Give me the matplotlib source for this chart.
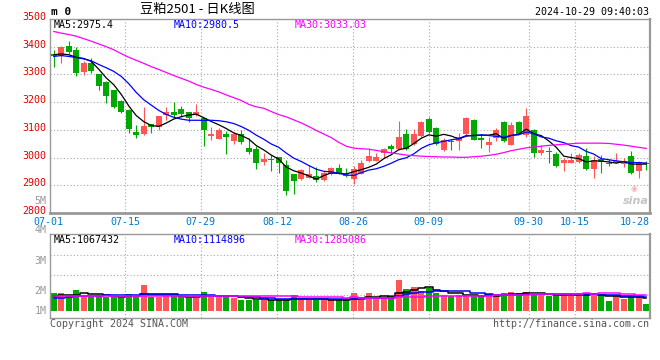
import numpy as np
import pandas as pd
import matplotlib
matplotlib.use('Agg')
import matplotlib.pyplot as plt
import matplotlib.transforms as mtransforms

# daily candles of m2501, 2024-07-01 .. 2024-10-29 (80 trading days)
opens = [3374, 3365, 3404, 3389, 3307, 3340, 3300, 3273, 3243, 3205,
         3171, 3093, 3086, 3121, 3112, 3155, 3165, 3175, 3165, 3152,
         3143, 3079, 3067, 3086, 3061, 3086, 3033, 3032, 2983, 2995,
         3001, 2974, 2942, 2924, 2927, 2935, 2918, 2939, 2963, 2936,
         2924, 2942, 2986, 2988, 3017, 3042, 3032, 3085, 3049, 3077,
         3138, 3108, 3029, 3061, 3060, 3085, 3134, 3072, 3047, 3069,
         3128, 3047, 3128, 3081, 3098, 3017, 3025, 3013, 2979, 2982,
         2985, 3006, 2958, 2996, 2982, 2982, 2977, 3006, 2952, 2982]
highs = [3389, 3404, 3421, 3398, 3348, 3360, 3302, 3276, 3245, 3207,
         3174, 3117, 3183, 3121, 3150, 3181, 3200, 3186, 3166, 3193,
         3143, 3112, 3105, 3095, 3093, 3100, 3069, 3040, 3017, 3010,
         3001, 2992, 2942, 2960, 2974, 2965, 2950, 2967, 2977, 2962,
         2969, 2990, 3033, 3017, 3033, 3048, 3133, 3102, 3102, 3133,
         3148, 3110, 3071, 3067, 3090, 3146, 3139, 3081, 3075, 3108,
         3132, 3128, 3132, 3179, 3104, 3045, 3039, 3021, 2997, 3017,
         3017, 3033, 3006, 3009, 2994, 3015, 3000, 3023, 2988, 2988]
lows = [3326, 3342, 3374, 3294, 3298, 3305, 3243, 3198, 3180, 3160,
        3090, 3069, 3083, 3090, 3100, 3136, 3143, 3148, 3127, 3150,
        3043, 3064, 3067, 3012, 3048, 3050, 3014, 2960, 2974, 2952,
        2945, 2864, 2867, 2920, 2925, 2912, 2915, 2937, 2940, 2929,
        2905, 2940, 2983, 2986, 3000, 3017, 3026, 3026, 3045, 3075,
        3088, 3045, 3025, 3027, 3027, 3080, 3063, 3033, 3021, 3061,
        3056, 3044, 3084, 3076, 3003, 3009, 2982, 2965, 2953, 2979,
        2982, 2956, 2926, 2944, 2970, 2979, 2965, 2941, 2928, 2956]
closes = [3365, 3398, 3380, 3305, 3340, 3312, 3257, 3223, 3183, 3165,
          3104, 3083, 3114, 3112, 3150, 3164, 3155, 3157, 3142, 3165,
          3101, 3086, 3098, 3074, 3086, 3055, 3021, 2981, 2995, 2993,
          2981, 2879, 2914, 2954, 2942, 2920, 2945, 2963, 2944, 2933,
          2960, 2981, 3006, 3002, 3031, 3031, 3073, 3031, 3085, 3129,
          3092, 3049, 3064, 3055, 3076, 3142, 3065, 3065, 3057, 3101,
          3060, 3116, 3086, 3150, 3017, 3027, 3021, 2970, 2991, 2991,
          3009, 2960, 2991, 2985, 2976, 2988, 2988, 2946, 2983, 2977]
# volume, thousand lots
volume = [1480, 1480, 1300, 1700, 1210, 1160, 1300, 1160, 1160, 1050,
          1380, 1160, 2130, 1160, 1160, 1210, 1210, 1210, 1050, 1050,
          1540, 1160, 1160, 1210, 1030, 920, 920, 920, 890, 890,
          890, 890, 1300, 890, 890, 890, 890, 890, 890, 890,
          1480, 970, 1480, 1030, 1030, 1300, 2510, 1780, 1940, 1620,
          1840, 1430, 1300, 1210, 1300, 1210, 1300, 1210, 1300, 1210,
          1480, 1560, 1480, 1560, 1300, 1300, 1210, 1210, 1480, 1210,
          1380, 1380, 1300, 1380, 810, 1210, 970, 1160, 1300, 570]

# moving averages before enough history is on the chart
ma5_lead = [3371, 3374, 3371, 3362]
ma10_lead = [3365, 3368, 3365, 3361, 3356, 3349, 3336, 3324, 3311]
ma30 = [3455, 3449, 3444, 3438, 3429, 3420, 3410, 3400, 3389, 3375,
        3362, 3351, 3340, 3328, 3318, 3307, 3296, 3286, 3276, 3264,
        3254, 3246, 3237, 3226, 3216, 3206, 3192, 3183, 3178, 3166,
        3155, 3147, 3136, 3125, 3112, 3098, 3085, 3072, 3055, 3041,
        3034, 3032, 3030, 3026, 3021, 3017, 3013, 3009, 3007, 3005,
        3004, 3003, 3002, 3002, 3001, 3001, 3003, 3005, 3008, 3012,
        3018, 3025, 3030, 3035, 3038, 3041, 3044, 3046, 3048, 3050,
        3052, 3052, 3052, 3052, 3051, 3048, 3045, 3041, 3037, 3033]
vma5_lead = [1250, 1280, 1300, 1320]
vma10_lead = [1030, 1080, 1120, 1180, 1200, 1220, 1240, 1260, 1270]
vma30_lead = [1190, 1190, 1195, 1195, 1200, 1200, 1200, 1205, 1205, 1205,
              1210, 1210, 1210, 1210, 1210, 1210, 1205, 1205, 1205, 1200,
              1200, 1200, 1200, 1195, 1195, 1195, 1200, 1205, 1210]

date_labels = ['07-01', '07-15', '07-29', '08-12', '08-26', '09-09', '09-30', '10-15', '10-28']
price_ticks = [2800, 2900, 3000, 3100, 3200, 3300, 3400, 3500]
vol_axis_labels = ['5M', '4M', '3M', '2M', '1M']
ma_price_text = ['MA5:2975.4', 'MA10:2980.5', 'MA30:3033.03']
ma_vol_text = ['MA5:1067432', 'MA10:1114896', 'MA30:1285086']

# layout (pixels)
W, H = 660, 360
date_pos = [-0.15, 10.0, 20.1, 30.3, 40.4, 50.5, 63.8, 70.0]
vol_label_y = [200.5, 230.5, 261, 291, 311]

RED = '#ff5555'
GREEN = '#00a800'
GRID = '#a8a8a8'
MONO = 'DejaVu Sans Mono'
plt.rcParams['font.family'] = [MONO, 'Noto Sans CJK SC']


def box(l, t, r, b):
    return [l / W, 1 - b / H, (r - l) / W, (b - t) / H]


def px(x, y):
    return x / W, 1 - y / H


def moving(values, n, lead):
    m = pd.Series(values, dtype=float).rolling(n).mean().to_numpy()
    m[:len(lead)] = lead
    return m


fig = plt.figure(figsize=(W / 100, H / 100), dpi=100)
ax = fig.add_axes(box(50, 19, 650, 213))
axv = fig.add_axes(box(50, 234, 650, 318))

n = len(closes)
xs = np.arange(n) + 0.5
o = np.array(opens)
c = np.array(closes)
up = c >= o
colors = np.where(up, RED, GREEN)

for a in (ax, axv):
    a.set_xlim(0, n)
    a.set_xticks([])
    a.set_yticks([])
    for s in a.spines.values():
        s.set_color('#999999')
        s.set_linewidth(1)
    for gx in date_pos[1:]:
        a.axvline(gx, color=GRID, lw=0.8, ls=(0, (1, 2)), zorder=0)
ax.spines['bottom'].set_linewidth(2)
ax.spines['right'].set_linewidth(1.6)
axv.spines['right'].set_linewidth(1.6)

# price panel
ax.set_ylim(2800, 3500)
for p in price_ticks[1:-1]:
    ax.axhline(p, color=GRID, lw=0.8, ls=(0, (1, 2)), zorder=0)
ax.vlines(xs, lows, highs, colors=colors, lw=0.8, zorder=2)
body = np.maximum(np.abs(c - o), 2.5)
ax.bar(xs, body, bottom=np.minimum(o, c), width=0.8, color=colors, lw=0, zorder=3)
ax.plot(xs, moving(closes, 5, ma5_lead), color='black', lw=0.9, zorder=4)
ax.plot(xs, moving(closes, 10, ma10_lead), color='#0000ff', lw=0.9, zorder=4)
ax.plot(xs, ma30, color='#ff00ff', lw=0.9, zorder=4)

ytr = mtransforms.blended_transform_factory(ax.transAxes, ax.transData) + \
    mtransforms.ScaledTranslation(-4 / 100, 2 / 100, fig.dpi_scale_trans)
for p in price_ticks:
    ax.text(0, p, str(p), transform=ytr, ha='right', va='center',
            fontsize=7.2, color='#e00000')

xtr = mtransforms.blended_transform_factory(ax.transData, ax.transAxes) + \
    mtransforms.ScaledTranslation(0, -4 / 100, fig.dpi_scale_trans)
for lab, gx in zip(date_labels[:-1], date_pos):
    ax.text(gx, 0, lab, transform=xtr, ha='center', va='top', fontsize=7.2, color='#0077cc')
ax.text(n, 0, date_labels[-1], transform=xtr, ha='right', va='top', fontsize=7.2, color='#0077cc')

# volume panel
axv.set_ylim(-570, 6230)
for f in [0.27, 0.51, 0.75]:
    axv.plot([0, 1], [f, f], transform=axv.transAxes, color=GRID, lw=0.8, ls=(0, (1, 2)), zorder=0)
axv.bar(xs, volume, width=0.8, color=colors, lw=0, zorder=2)
axv.plot(xs, moving(volume, 5, vma5_lead), color='black', lw=1.1, drawstyle='steps-mid', zorder=3)
axv.plot(xs, moving(volume, 10, vma10_lead), color='#0000ff', lw=1.1, drawstyle='steps-mid', zorder=3)
axv.plot(xs, moving(volume, 30, vma30_lead), color='#ff00ff', lw=1.1, drawstyle='steps-mid', zorder=3)

for lab, y in zip(vol_axis_labels, vol_label_y):
    fig.text(*px(46.5, y), lab, ha='right', va='center', fontsize=7.2, color='#999999')

# legends
for txt, x0, col in zip(ma_price_text, [54, 174, 295], ['black', '#0000ff', '#ff00ff']):
    fig.text(*px(x0, 20), txt, ha='left', va='top', fontsize=7.2, color=col)
for txt, x0, col in zip(ma_vol_text, [54, 174, 295], ['black', '#0000ff', '#ff00ff']):
    fig.text(*px(x0, 235), txt, ha='left', va='top', fontsize=7.2, color=col)

# header / footer
fig.text(*px(51, 15), 'm 0', ha='left', va='baseline', fontsize=8, fontweight='bold', color='black')
fig.text(*px(140, 9.5), '豆粕2501 - 日K线图', ha='left', va='center', fontsize=9.5,
         family=['Noto Sans CJK SC', 'DejaVu Sans'], color='black')
fig.text(*px(649, 15), '2024-10-29 09:40:03', ha='right', va='baseline', fontsize=7.2, color='black')
fig.text(*px(50, 327), 'Copyright 2024 SINA.COM', ha='left', va='baseline', fontsize=7.2, color='#555555')
fig.text(*px(649, 327), 'http://finance.sina.com.cn', ha='right', va='baseline', fontsize=7.2, color='#555555')

# watermark
fig.text(*px(634, 188), '◉', ha='center', va='center', fontsize=5.5, color='#f2b0b0',
         family=['DejaVu Sans'])
fig.text(*px(636, 201), 'sina', ha='center', va='center', fontsize=8, fontweight='bold',
         fontstyle='italic', color='#c4c4c4', family=['DejaVu Sans'])

fig.savefig('out.png', dpi=100)
